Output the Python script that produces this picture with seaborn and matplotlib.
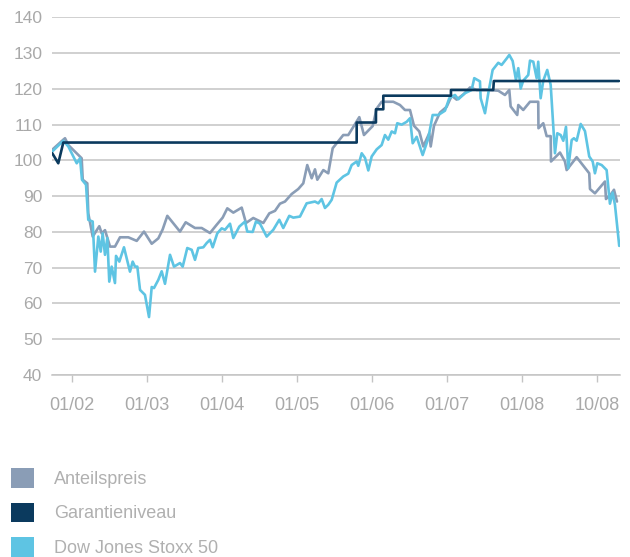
import pandas as pd
import seaborn as sns
import matplotlib.pyplot as plt
from matplotlib.patches import Patch

# time axis in chart years (tick at each year start)
anteil_x = [2001.737, 2001.884, 2001.907, 2001.951, 2002.129, 2002.143, 2002.204, 2002.217,
            2002.276, 2002.364, 2002.396, 2002.44, 2002.507, 2002.573, 2002.64, 2002.751,
            2002.863, 2002.96, 2003.063, 2003.151, 2003.209, 2003.271, 2003.44, 2003.516,
            2003.64, 2003.729, 2003.84, 2003.929, 2004.009, 2004.071, 2004.151, 2004.263,
            2004.32, 2004.417, 2004.551, 2004.631, 2004.707, 2004.773, 2004.84, 2004.929,
            2005.017, 2005.084, 2005.137, 2005.196, 2005.24, 2005.271, 2005.351, 2005.417,
            2005.476, 2005.617, 2005.684, 2005.831, 2005.893, 2006.009, 2006.063, 2006.129,
            2006.284, 2006.373, 2006.44, 2006.507, 2006.56, 2006.631, 2006.684, 2006.764,
            2006.783, 2006.827, 2006.907, 2006.996, 2007.063, 2007.129, 2007.227, 2007.307,
            2007.396, 2007.529, 2007.684, 2007.773, 2007.831, 2007.849, 2007.937, 2007.951,
            2008.017, 2008.107, 2008.217, 2008.22, 2008.284, 2008.329, 2008.383, 2008.387,
            2008.507, 2008.573, 2008.596, 2008.729, 2008.897, 2008.907, 2008.973, 2009.107,
            2009.12, 2009.196, 2009.227, 2009.267]
anteil_y = [103, 105.8, 106.2, 104.3, 100.6, 94.6, 93.6, 85.2,
            78.7, 81.6, 79.6, 80.5, 75.9, 75.9, 78.5, 78.5,
            77.5, 80.1, 76.7, 78.2, 80.7, 84.5, 80.1, 82.7,
            81.1, 81.1, 79.7, 82, 84, 86.6, 85.4, 86.8,
            82.5, 83.9, 82.5, 85.2, 85.9, 87.9, 88.5, 90.6,
            92, 93.6, 98.7, 95, 97.5, 94.6, 97.3, 96.4,
            103.4, 107.1, 107.1, 112.1, 107.1, 109.6, 114.5, 116.4,
            116.4, 115.5, 114.1, 114.1, 109.7, 108.1, 103.9, 107.6,
            103.9, 109.7, 113.4, 115, 118.1, 117, 118.6, 120.4,
            119.7, 119.7, 119.5, 118.3, 119.7, 115.1, 112.7, 115.5,
            114.1, 116.4, 116.4, 109, 110.4, 106.8, 106.8, 99.7,
            102.2, 99.7, 97.3, 100.9, 96.4, 92, 90.8, 94.1,
            89.2, 90.8, 91.8, 88.5]

garantie_x = [2001.737, 2001.817, 2001.884, 2005.796, 2005.796, 2006.053, 2006.053,
              2006.151, 2006.151, 2007.053, 2007.053, 2007.617, 2007.625, 2009.293]
garantie_y = [102, 99.2, 105, 105, 110.6, 110.6, 114.3,
              114.3, 118.1, 118.1, 119.7, 119.7, 122.2, 122.2]

stoxx_x = [2001.737, 2001.884, 2001.951, 2002.063, 2002.107, 2002.133, 2002.187, 2002.217,
           2002.276, 2002.307, 2002.351, 2002.383, 2002.409, 2002.44, 2002.471, 2002.497,
           2002.529, 2002.573, 2002.587, 2002.631, 2002.693, 2002.773, 2002.809, 2002.84,
           2002.871, 2002.907, 2002.973, 2003.027, 2003.063, 2003.093, 2003.151, 2003.196,
           2003.24, 2003.307, 2003.36, 2003.44, 2003.476, 2003.537, 2003.596, 2003.64,
           2003.684, 2003.751, 2003.796, 2003.84, 2003.876, 2003.937, 2003.996, 2004.04,
           2004.107, 2004.151, 2004.231, 2004.307, 2004.337, 2004.409, 2004.453, 2004.507,
           2004.596, 2004.684, 2004.764, 2004.817, 2004.897, 2004.951, 2005.04, 2005.129,
           2005.24, 2005.284, 2005.329, 2005.373, 2005.417, 2005.463, 2005.529, 2005.617,
           2005.684, 2005.729, 2005.796, 2005.817, 2005.863, 2005.907, 2005.951, 2005.996,
           2006.063, 2006.129, 2006.173, 2006.217, 2006.263, 2006.307, 2006.337, 2006.396,
           2006.463, 2006.507, 2006.543, 2006.596, 2006.676, 2006.751, 2006.809, 2006.884,
           2006.973, 2007.031, 2007.107, 2007.151, 2007.24, 2007.329, 2007.364, 2007.44,
           2007.449, 2007.507, 2007.551, 2007.609, 2007.684, 2007.729, 2007.796, 2007.831,
           2007.876, 2007.92, 2007.951, 2007.983, 2008.017, 2008.084, 2008.107, 2008.151,
           2008.196, 2008.217, 2008.249, 2008.284, 2008.337, 2008.383, 2008.44, 2008.471,
           2008.516, 2008.551, 2008.587, 2008.617, 2008.663, 2008.693, 2008.729, 2008.783,
           2008.84, 2008.897, 2008.943, 2008.973, 2009.004, 2009.063, 2009.129, 2009.173,
           2009.209, 2009.24, 2009.297]
stoxx_y = [102.5, 105.5, 103.9, 99.2, 100.6, 94.6, 93.2, 83.4,
           82.9, 68.9, 78.7, 74.5, 79.6, 73.6, 78.3, 66.1,
           70.3, 65.7, 73.3, 71.7, 75.7, 68.9, 71.7, 70.3,
           70.3, 63.8, 62.4, 56.2, 64.6, 64.3, 66.6, 69,
           65.5, 73.6, 70.3, 71.3, 70.3, 75.5, 75, 72.2,
           75.5, 75.7, 76.9, 77.8, 75.7, 79.6, 81, 80.6,
           82.3, 78.3, 81.5, 82.9, 80.1, 80, 82.9, 82.3,
           78.7, 80.6, 83.4, 81.1, 84.5, 84, 84.3, 88,
           88.5, 88, 89.2, 86.7, 87.6, 89, 93.8, 95.5,
           96.3, 98.7, 99.7, 98.5, 102, 100.7, 97.2, 101.1,
           103.1, 104.3, 107.1, 105.8, 108.1, 107.6, 110.4, 110,
           110.8, 111.8, 104.8, 106.6, 101.5, 106.2, 112.7, 112.7,
           113.9, 117.4, 118.3, 117.1, 118.8, 119.7, 123, 122.1,
           117.4, 113.2, 118.8, 125.3, 127.3, 126.7, 128.5, 129.5,
           127.8, 122.5, 125.8, 120.1, 122.3, 123.9, 127.9, 127.6,
           123, 127.6, 117.4, 122.3, 125.3, 121.1, 102, 107.6,
           107.1, 105.5, 109.4, 97.8, 105.7, 106.2, 105.5, 110.2,
           108.2, 101.1, 99.7, 96.4, 99.2, 98.7, 97.3, 87.9,
           91, 87.6, 76.1]

tick_pos = [2002, 2003, 2004, 2005, 2006, 2007, 2008, 2009]
tick_labels = ['01/02', '01/03', '01/04', '01/05', '01/06', '01/07', '01/08', '10/08']

names = ['Anteilspreis', 'Garantieniveau', 'Dow Jones Stoxx 50']
colors = ['#8a9db6', '#0b3a5e', '#5ec4e3']

sns.set_style('white')
plt.rcParams['font.family'] = ['Liberation Sans', 'DejaVu Sans']
txt = '#a9a9a9'
grid = '#c4c4c4'

fig = plt.figure(figsize=(6.3, 5.57), dpi=100)
ax = fig.add_axes([0.0825, 0.3268, 0.9016, 0.642])

sns.lineplot(x=anteil_x, y=anteil_y, color=colors[0], lw=1.9, estimator=None, sort=False, ax=ax)
sns.lineplot(x=stoxx_x, y=stoxx_y, color=colors[2], lw=1.9, estimator=None, sort=False, ax=ax)
sns.lineplot(x=garantie_x, y=garantie_y, color=colors[1], lw=1.9, estimator=None, sort=False, ax=ax)

ax.set_xlim(2001.733, 2009.307)
ax.set_ylim(40, 140)
ax.set_yticks(range(40, 141, 10))
ax.yaxis.grid(True, color=grid, lw=1.1)
ax.set_axisbelow(True)
for s in ['left', 'right', 'top']:
    ax.spines[s].set_visible(False)
ax.spines['bottom'].set_color(grid)
ax.spines['bottom'].set_linewidth(1.1)
ax.set_xticks(tick_pos)
ax.set_xticklabels(tick_labels)
ax.tick_params(axis='x', direction='out', length=5, width=1, color=grid,
               labelcolor=txt, labelsize=13, pad=11, bottom=True)
ax.tick_params(axis='y', length=0, labelcolor=txt, labelsize=12.5, pad=7)
ax.set_xlabel('')
ax.set_ylabel('')

handles = [Patch(facecolor=c, edgecolor='none') for c in colors]
fig.legend(handles, names, loc='upper left', bbox_to_anchor=(0.017, 0.160),
           frameon=False, fontsize=13, labelcolor='#b0b0b0', handlelength=1.3,
           handleheight=1.3, handletextpad=1.1, labelspacing=0.82, borderpad=0,
           borderaxespad=0)

plt.savefig('out.png', dpi=100)
